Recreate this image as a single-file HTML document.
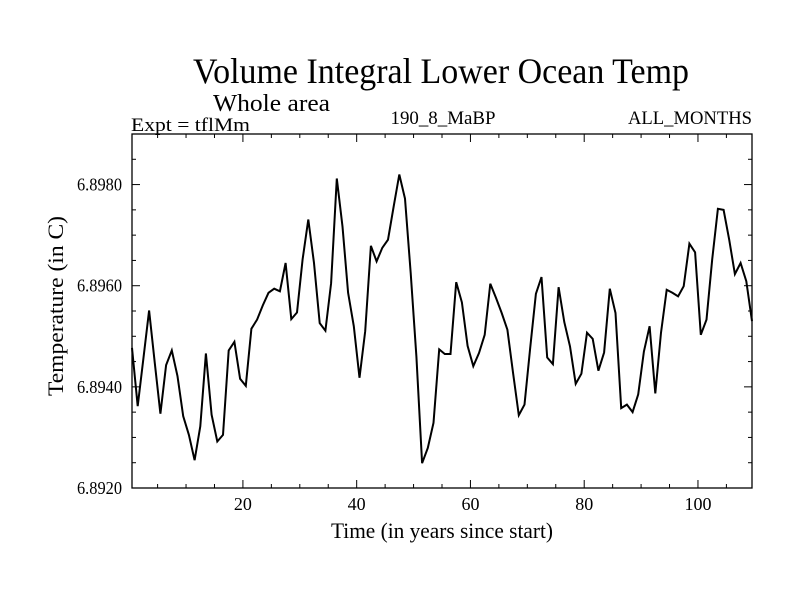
<!DOCTYPE html>
<html><head><meta charset="utf-8"><style>
html,body{margin:0;padding:0;background:#fff}
svg text{font-family:"Liberation Serif",serif;fill:#000}
</style></head><body>
<svg id="chart" width="800" height="600" viewBox="0 0 800 600" xmlns="http://www.w3.org/2000/svg">
<rect width="800" height="600" fill="#fff"/>
<text x="441" y="83" font-size="36" text-anchor="middle" textLength="496" lengthAdjust="spacingAndGlyphs">Volume Integral Lower Ocean Temp</text>
<text x="213" y="111" font-size="24" textLength="117" lengthAdjust="spacingAndGlyphs">Whole area</text>
<text x="131" y="131" font-size="19" textLength="119" lengthAdjust="spacingAndGlyphs">Expt = tflMm</text>
<text x="443" y="124" font-size="19" text-anchor="middle" textLength="105" lengthAdjust="spacingAndGlyphs">190_8_MaBP</text>
<text x="752" y="124" font-size="19" text-anchor="end" textLength="124" lengthAdjust="spacingAndGlyphs">ALL_MONTHS</text>
<text x="442" y="538" font-size="22" text-anchor="middle" textLength="222" lengthAdjust="spacingAndGlyphs">Time (in years since start)</text>
<text transform="translate(63,306) rotate(-90)" font-size="22" text-anchor="middle" textLength="180" lengthAdjust="spacingAndGlyphs">Temperature (in C)</text>
<g id="axes"></g>
<g id="series"></g>
</svg>
<script>
const years = [];
for (let i = 0; i < 110; i++) years.push(i + 0.5);
const tempOffsets = [27.7,16.2,25.6,35.1,24.7,14.7,24.3,27.2,22.1,14.2,10.5,5.5,12.2,26.6,14.5,9.2,10.5,27.2,28.9,21.6,20.2,31.5,33.3,36.1,38.6,39.4,38.9,44.5,33.4,34.7,45.2,53.1,44.5,32.6,31.1,40.5,61.2,51.7,38.6,32.0,21.8,31.0,47.9,44.8,47.5,49.1,55.7,62.0,57.2,42.5,26.0,4.9,7.9,12.9,27.4,26.5,26.5,40.7,36.7,28.1,24.1,26.7,30.3,40.4,37.6,34.6,31.3,22.7,14.4,16.5,27.7,38.4,41.7,25.8,24.5,39.7,32.8,28.0,20.6,22.6,30.7,29.5,23.2,26.8,39.4,34.6,15.8,16.5,15.0,18.5,27.0,32.0,18.7,30.7,39.2,38.6,37.9,39.9,48.3,46.6,30.3,33.3,45.2,55.2,55.0,49.1,42.3,44.5,40.9,33.0];
const temps = tempOffsets.map(u => 6.892 + u * 0.0001);
const yTickValues = [6.892, 6.894, 6.896, 6.898];
const yTickLabels = ["6.8920", "6.8940", "6.8960", "6.8980"];
const xTickValues = [20, 40, 60, 80, 100];
const xTickLabels = ["20", "40", "60", "80", "100"];

const L = 132, R = 752, T = 134, B = 488;
const xMin = 0.5, xMax = 109.5, yMin = 6.892, yMax = 6.899;
const xs = v => L + (v - xMin) / (xMax - xMin) * (R - L);
const ys = v => B - (v - yMin) / (yMax - yMin) * (B - T);
const NS = "http://www.w3.org/2000/svg";
const axes = document.getElementById('axes');
function mk(tag, attrs, parent) {
  const e = document.createElementNS(NS, tag);
  for (const k in attrs) e.setAttribute(k, attrs[k]);
  parent.appendChild(e);
  return e;
}
const frame = mk('rect', {x: L, y: T, width: R - L, height: B - T, fill: 'none', stroke: '#000', 'stroke-width': 1.3}, axes);


for (let v = 5; v <= 105; v += 5) {
  const major = v % 20 === 0;
  const len = major ? 8 : 4;
  const x = xs(v);
  const t1 = mk('line', {x1: x, x2: x, y1: B, y2: B - len, stroke: '#000', 'stroke-width': 1}, axes);
  
  
  const t2 = mk('line', {x1: x, x2: x, y1: T, y2: T + len, stroke: '#000', 'stroke-width': 1}, axes);
  
  
}
xTickValues.forEach((v, i) => {
  const t = mk('text', {x: xs(v), y: 510, 'font-size': 18, 'text-anchor': 'middle'}, axes);
  t.textContent = xTickLabels[i];
  
  
});
for (let k = 0; k <= 14; k++) {
  const v = yMin + k * 0.0005;
  const major = k % 4 === 0;
  const len = major ? 8 : 4;
  const y = ys(v);
  const t1 = mk('line', {x1: L, x2: L + len, y1: y, y2: y, stroke: '#000', 'stroke-width': 1}, axes);
  
  
  const t2 = mk('line', {x1: R, x2: R - len, y1: y, y2: y, stroke: '#000', 'stroke-width': 1}, axes);
  
  
}
yTickValues.forEach((v, i) => {
  const t = mk('text', {x: 122, y: ys(v) + 6, 'font-size': 18, 'text-anchor': 'end', textLength: 45, lengthAdjust: 'spacingAndGlyphs'}, axes);
  t.textContent = yTickLabels[i];
  
  
});
const pts = years.map((y, i) => xs(y).toFixed(1) + ',' + ys(temps[i]).toFixed(1)).join(' ');
const line = mk('polyline', {points: pts, fill: 'none', stroke: '#000', 'stroke-width': 2, 'stroke-linejoin': 'miter'}, document.getElementById('series'));


</script>
</body></html>
